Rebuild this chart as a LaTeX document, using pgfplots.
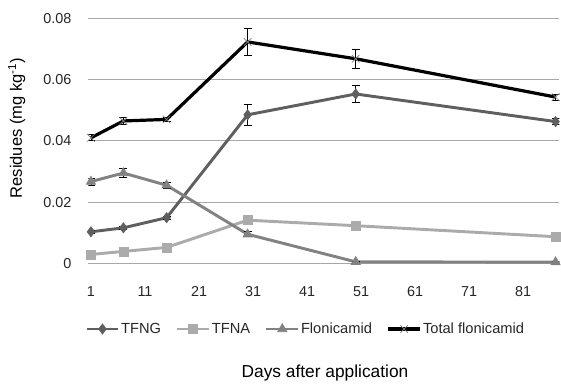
\documentclass[border=0pt]{standalone}
\usepackage{fontspec}
\setmainfont{Liberation Sans}
\usepackage{pgfplots}
\pgfplotsset{compat=1.18}
\definecolor{cTFNG}{HTML}{5F5F5F}
\definecolor{cTFNA}{HTML}{ABABAB}
\definecolor{cFlo}{HTML}{828282}
\definecolor{cGrid}{HTML}{A8A8A8}
\definecolor{cText}{HTML}{262626}
\begin{document}
\begin{tikzpicture}
\path[use as bounding box] (-66.2pt,-91.3pt) rectangle (354.5pt,197.5pt);
\begin{axis}[
  at={(0pt,0pt)}, anchor=south west,
  scale only axis, width=353.25pt, height=183.75pt,
  xmin=0.5, xmax=87.7, ymin=0, ymax=0.08,
  scaled y ticks=false, scaled x ticks=false,
  axis line style={draw=none},
  tick style={draw=none},
  ymajorgrids, major grid style={cGrid, line width=0.8pt},
  xtick={1,11,21,31,41,51,61,71,81},
  ytick={0,0.02,0.04,0.06,0.08},
  yticklabels={0,0.02,0.04,0.06,0.08},
  xticklabels={1,11,21,31,41,51,61,71,81},
  ticklabel style={font=\fontsize{10.8}{12}\selectfont, text=cText},
  xticklabel style={anchor=center, yshift=-21pt},
  yticklabel style={anchor=east, inner sep=0pt, xshift=-12.5pt},
  xlabel={Days after application},
  xlabel style={at={(axis description cs:0.5025,-0.448)}, anchor=center, font=\fontsize{13}{15}\selectfont, text=black},
  ylabel={Residues (mg kg\textsuperscript{-1})},
  ylabel style={at={(axis description cs:-0.152,0.552)}, anchor=center, rotate=0, font=\fontsize{12.4}{14}\selectfont, text=black},
  legend columns=4,
  legend image code/.code={\draw[mark repeat=2, mark phase=2] plot coordinates {(0cm,0cm) (0.42cm,0cm) (0.84cm,0cm)};},
  legend style={draw=none, fill=none, at={(axis description cs:0.462,-0.268)}, anchor=center,
    font=\fontsize{11}{13}\selectfont, text=cText,
    /tikz/every even column/.append style={column sep=9pt},
    /tikz/every odd column/.append style={column sep=-1pt}},
  error bars/y dir=both, error bars/y explicit,
  error bars/error bar style={black, line width=0.6pt},
  error bars/error mark options={rotate=90, black, mark size=3pt, line width=0.6pt},
]
\addplot[cTFNG, line width=2.2pt, mark=diamond*, mark size=3.8pt, mark options={solid, line width=0.5pt}]
  coordinates {(1,0.0103) +- (0,0.0005) (7,0.0116) +- (0,0.0005) (15,0.0149) +- (0,0.0005)
  (30,0.0485) +- (0,0.0034) (50,0.0553) +- (0,0.0027) (87,0.0463) +- (0,0.001)};
\addlegendentry{TFNG}
\addplot[cTFNA, line width=2.2pt, mark=square*, mark size=3.4pt, mark options={solid, line width=0.5pt}]
  coordinates {(1,0.0029) +- (0,0.0003) (7,0.0039) +- (0,0.0003) (15,0.0052) +- (0,0.0003)
  (30,0.0141) +- (0,0.0004) (50,0.0123) +- (0,0.0004) (87,0.0087) +- (0,0.0004)};
\addlegendentry{TFNA}
\addplot[cFlo, line width=2.2pt, mark=triangle*, mark size=4pt, mark options={solid, line width=0.5pt}]
  coordinates {(1,0.0267) +- (0,0.0012) (7,0.0295) +- (0,0.0015) (15,0.0255) +- (0,0.0010)
  (30,0.0095) +- (0,0.0008) (50,0.0005) +- (0,0.0002) (87,0.0004) +- (0,0.0002)};
\addlegendentry{Flonicamid}
\addplot[black, line width=2.4pt, mark=x, mark size=4pt, mark options={solid, line width=0.5pt, draw=gray}]
  coordinates {(1,0.0410) +- (0,0.0010) (7,0.0465) +- (0,0.0010) (15,0.0470) +- (0,0.0008)
  (30,0.0723) +- (0,0.0044) (50,0.0668) +- (0,0.0032) (87,0.0543) +- (0,0.0010)};
\addlegendentry{Total flonicamid}
\end{axis}
\end{tikzpicture}
\end{document}
